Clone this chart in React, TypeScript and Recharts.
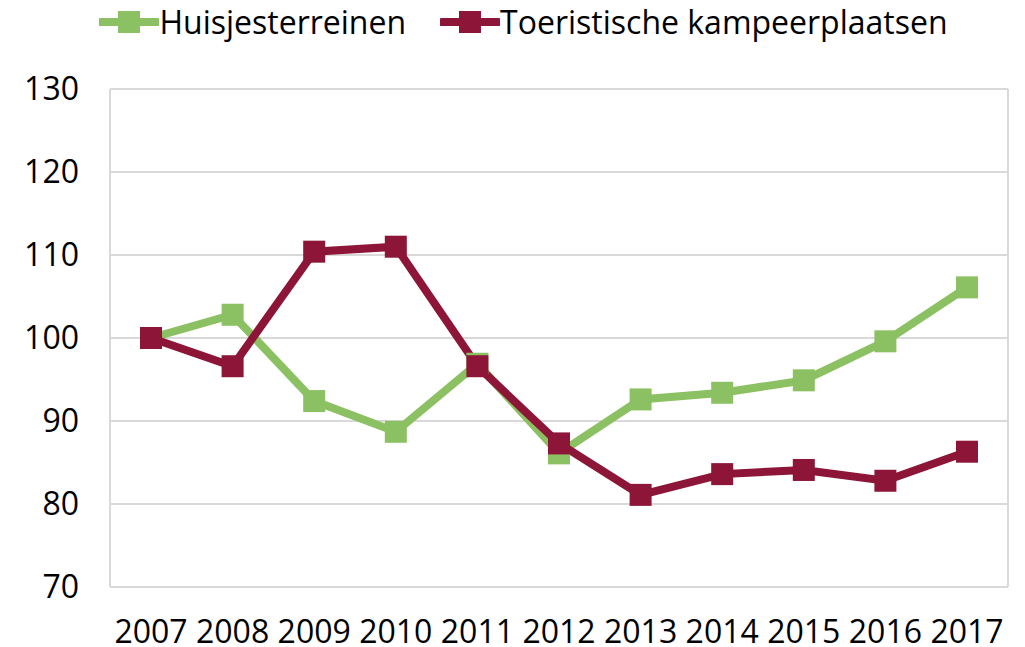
import { LineChart, Line, XAxis, YAxis, CartesianGrid, Legend } from 'recharts'

const years = ['2007', '2008', '2009', '2010', '2011', '2012', '2013', '2014', '2015', '2016', '2017']
const huisjes = [100, 102.8, 92.4, 88.7, 96.9, 86.1, 92.6, 93.4, 94.9, 99.6, 106.1]
const toeristisch = [100, 96.6, 110.4, 111.0, 96.6, 87.3, 81.1, 83.6, 84.1, 82.8, 86.3]
const yTicks = [70, 80, 90, 100, 110, 120, 130]

const GREEN = '#8cc163'
const RED = '#8c1538'
const FONT = '"Open Sans", sans-serif'
const FS = 32

const data = years.map((y, i) => ({ year: y, Huisjesterreinen: huisjes[i], 'Toeristische kampeerplaatsen': toeristisch[i] }))

const series = [
  { key: 'Huisjesterreinen', color: GREEN },
  { key: 'Toeristische kampeerplaatsen', color: RED },
]

// square marker, same as the old office chart
const squareDot = (color: string) => (p: any) => (
  <rect key={p.index} x={p.cx - 11} y={p.cy - 11} width={22} height={22} fill={color} />
)

const LegendContent = () => (
  <div style={{ display: 'flex', justifyContent: 'center', gap: 34, fontFamily: FONT, fontSize: FS, lineHeight: '44px', color: '#000', paddingLeft: 22 }}>
    {series.map(s => (
      <div key={s.key} style={{ display: 'flex', alignItems: 'center' }}>
        <svg width={60} height={24}>
          <line x1={2} y1={12} x2={58} y2={12} stroke={s.color} strokeWidth={8} strokeLinecap="round" />
          <rect x={19} y={1} width={22} height={22} fill={s.color} />
        </svg>
        <span>{s.key}</span>
      </div>
    ))}
  </div>
)

export default function App() {
  return (
    <div style={{ position: 'absolute', left: 0, top: 0, background: '#fff' }}>
      <LineChart width={1025} height={647} data={data} margin={{ top: 45, right: 17, bottom: 0, left: 0 }}>
        <CartesianGrid
          stroke="#d9d9d9"
          strokeWidth={2}
          verticalCoordinatesGenerator={({ offset }: any) => [offset.left, offset.left + offset.width]}
        />
        <XAxis
          dataKey="year"
          height={60}
          padding={{ left: 41, right: 41 }}
          axisLine={{ stroke: '#d9d9d9', strokeWidth: 2 }}
          tickLine={false}
          tickSize={0}
          tickMargin={33}
          interval={0}
          tick={{ fontSize: FS, fill: '#000', fontFamily: FONT }}
        />
        <YAxis
          width={110}
          domain={[70, 130]}
          ticks={yTicks}
          axisLine={{ stroke: '#d9d9d9', strokeWidth: 2 }}
          tickLine={false}
          tickSize={0}
          tickMargin={31}
          tick={{ fontSize: FS, fill: '#000', fontFamily: FONT }}
        />
        <Legend verticalAlign="top" content={<LegendContent />} wrapperStyle={{ top: 0, left: 0, width: 1025 }} />
        {series.map(s => (
          <Line
            key={s.key}
            type="linear"
            dataKey={s.key}
            stroke={s.color}
            strokeWidth={8}
            dot={squareDot(s.color)}
            activeDot={false}
            isAnimationActive={false}
          />
        ))}
      </LineChart>
    </div>
  )
}
